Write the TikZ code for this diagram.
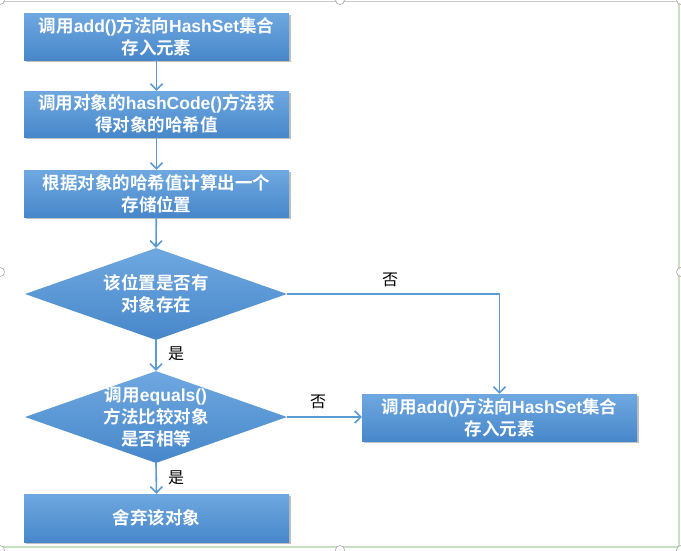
\documentclass[tikz,border=0pt]{standalone}
\usepackage{fontspec}
\setmainfont{Liberation Sans}
\newfontfamily\cjk{Noto Sans CJK SC}[BoldFont={Noto Sans CJK SC Bold}]
\usetikzlibrary{shapes.geometric,arrows.meta,shadows}
\definecolor{flowline}{HTML}{5B9BD5}
\definecolor{boxtop}{HTML}{6FA8E0}
\definecolor{boxbot}{HTML}{4787CA}
\definecolor{frameg}{HTML}{C9C9C9}
\definecolor{framegr}{HTML}{C8E0C0}
\tikzset{
  stepbox/.style={rectangle, top color=boxtop, bottom color=boxbot, draw=none,
    inner sep=0pt, align=center, text=white,
    font=\fontsize{17.5pt}{22pt}\selectfont\bfseries,
    drop shadow={shadow xshift=1.5pt, shadow yshift=-2pt, opacity=0.35, fill=black!70}},
  decbox/.style={diamond, top color=boxtop, bottom color=boxbot, draw=none,
    inner sep=0pt, minimum width=262pt, minimum height=92pt},
  dectext/.style={align=center, text=white, inner sep=0pt,
    font=\fontsize{17.5pt}{22pt}\selectfont\bfseries},
  flow/.style={draw=flowline, line width=1.6pt, -{Straight Barb[length=6pt,width=12pt,line width=1.6pt]}},
  lab/.style={font=\fontsize{16pt}{18pt}\selectfont\cjk, text=black, inner sep=0pt},
  handle/.style={draw=gray!70, fill=white, line width=0.6pt}
}
\begin{document}
\begin{tikzpicture}[x=1pt,y=-1pt]
\useasboundingbox (0,0) rectangle (681,550);
% selection frame
\draw[frameg, line width=1pt] (0,1) -- (681,1);
\draw[framegr, line width=1.2pt] (679,0) -- (679,550);
\draw[framegr, line width=2pt] (0,547) -- (681,547);
\foreach \p in {(0,0),(340,0),(681,0),(0,272),(681,272),(0,550),(340,550),(681,550)}
  \draw[handle] \p circle (4.5);

\node[stepbox, minimum width=265pt, minimum height=47pt] (b1) at (156.5,36.5)
  {{\cjk 调用}add(){\cjk 方法向}HashSet{\cjk 集合}\\{\cjk 存入元素}};
\node[stepbox, minimum width=265pt, minimum height=46pt] (b2) at (156.5,114)
  {{\cjk 调用对象的}hashCode(){\cjk 方法获}\\{\cjk 得对象的哈希值}};
\node[stepbox, minimum width=265pt, minimum height=47pt] (b3) at (156.5,193.5)
  {{\cjk 根据对象的哈希值计算出一个}\\{\cjk 存储位置}};
\node[decbox] (d1) at (156,294) {};
\node[dectext] (t1) at (d1) {{\cjk 该位置是否有}\\{\cjk 对象存在}};
\node[decbox] (d2) at (156,417) {};
\node[dectext] (t2) at (d2) {{\cjk 调用}equals()\\{\cjk 方法比较对象}\\{\cjk 是否相等}};
\node[stepbox, minimum width=265pt, minimum height=48pt] (b4) at (156.5,518)
  {{\cjk 舍弃该对象}};
\node[stepbox, minimum width=275pt, minimum height=47pt] (r) at (499.5,417.5)
  {{\cjk 调用}add(){\cjk 方法向}HashSet{\cjk 集合}\\{\cjk 存入元素}};

\draw[flow] (b1) -- (b2);
\draw[flow] (b2) -- (b3);
\draw[flow] (b3) -- (d1.north);
\draw[flow] (d1.south) -- (d2.north);
\draw[flow] (d2.south) -- (b4.north);
\draw[flow] (d1.east) -- (d1.east -| r.north) -- (r.north);
\draw[flow] (d2.east) -- (d2.east -| r.west);

\node[lab] (l1) at (176,354) {是};
\node[lab] (l2) at (176,478) {是};
\node[lab] (l3) at (390,280) {否};
\node[lab] (l4) at (318,402) {否};
\end{tikzpicture}
\end{document}
